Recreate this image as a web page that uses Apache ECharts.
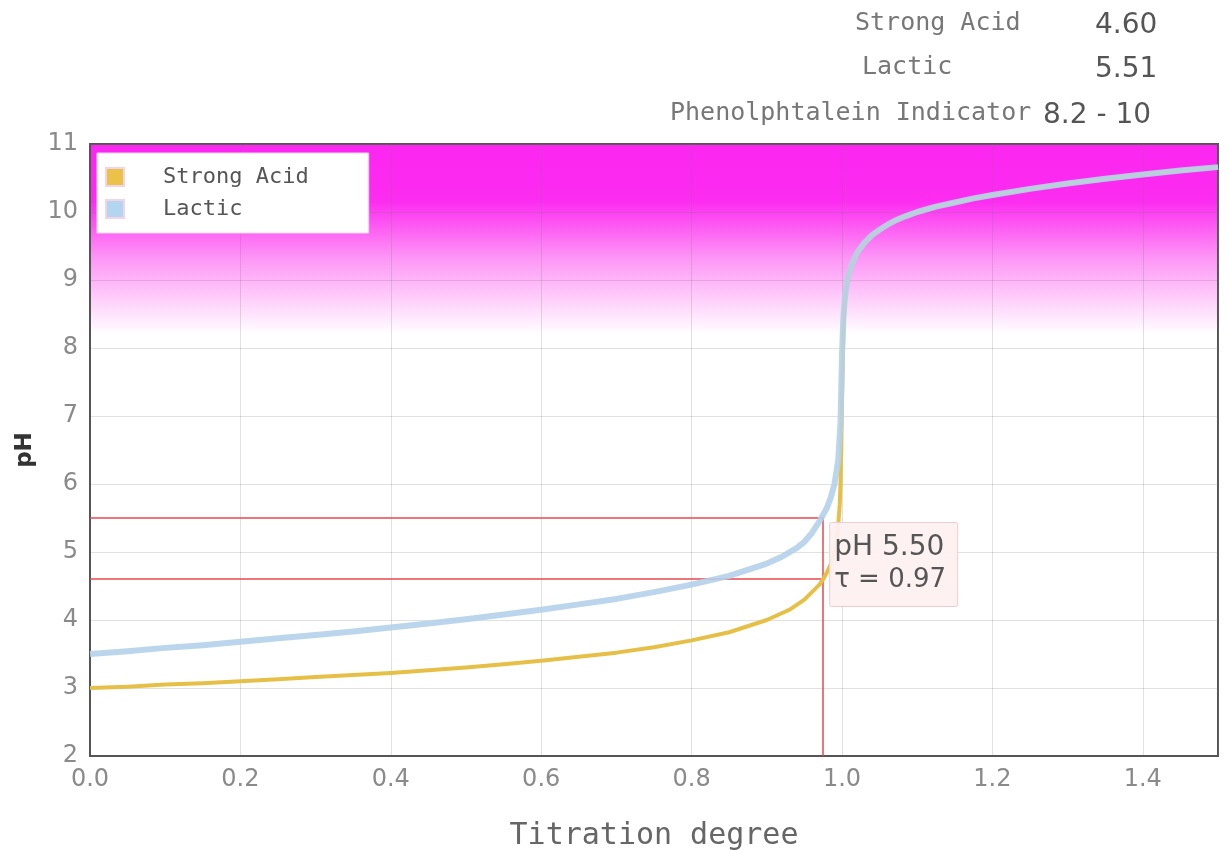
<!DOCTYPE html>
<html>
<head>
<meta charset="utf-8">
<title>Titration curve</title>
<script src="https://cdn.jsdelivr.net/npm/echarts@6/dist/echarts.min.js"></script>
<style>
body { margin: 0; background: #ffffff; }
#main { width: 1229px; height: 850px; }
</style>
</head>
<body>
<div id="main"></div>
<script type="text/javascript">
// titration degree (tau) and pH
var strongTau = [0, 0.05, 0.1, 0.15, 0.2, 0.25, 0.3, 0.35, 0.4, 0.45, 0.5, 0.55, 0.6, 0.65, 0.7, 0.75, 0.8, 0.85, 0.9, 0.93,
	0.95, 0.97, 0.975, 0.98, 0.985, 0.99, 0.993, 0.995, 0.997, 0.998, 0.999,
	1.0, 1.001, 1.002, 1.004, 1.007, 1.012, 1.02, 1.03, 1.04, 1.05, 1.06, 1.07, 1.085, 1.1, 1.125, 1.15, 1.175, 1.2,
	1.25, 1.3, 1.35, 1.4, 1.45, 1.5];
var strongPH = [3.00, 3.02, 3.05, 3.07, 3.10, 3.13, 3.16, 3.19, 3.22, 3.26, 3.30, 3.35, 3.40, 3.46, 3.52, 3.60, 3.70, 3.82, 4.00, 4.15,
	4.30, 4.52, 4.60, 4.70, 4.82, 5.00, 5.15, 5.40, 5.70, 6.00, 6.50,
	7.20, 7.80, 8.30, 8.70, 9.00, 9.20, 9.40, 9.55, 9.66, 9.74, 9.81, 9.87, 9.94, 10.00, 10.08, 10.14, 10.20, 10.25,
	10.34, 10.42, 10.49, 10.55, 10.61, 10.66];

var lacticTau = [0, 0.05, 0.1, 0.15, 0.2, 0.25, 0.3, 0.35, 0.4, 0.45, 0.5, 0.55, 0.6, 0.65, 0.7, 0.75, 0.8, 0.85, 0.9, 0.92,
	0.94, 0.95, 0.96, 0.97, 0.98, 0.985, 0.99, 0.995, 0.998,
	1.0, 1.002, 1.004, 1.007, 1.012, 1.02, 1.03, 1.04, 1.05, 1.06, 1.07, 1.085, 1.1, 1.125, 1.15, 1.175, 1.2,
	1.25, 1.3, 1.35, 1.4, 1.45, 1.5];
var lacticPH = [3.50, 3.54, 3.59, 3.63, 3.68, 3.73, 3.78, 3.83, 3.89, 3.95, 4.01, 4.08, 4.15, 4.23, 4.31, 4.41, 4.52, 4.65, 4.83, 4.93,
	5.06, 5.15, 5.28, 5.45, 5.65, 5.80, 6.00, 6.35, 6.90,
	7.90, 8.50, 8.75, 9.00, 9.20, 9.40, 9.55, 9.66, 9.74, 9.81, 9.87, 9.94, 10.00, 10.08, 10.14, 10.20, 10.25,
	10.34, 10.42, 10.49, 10.55, 10.61, 10.66];

// reading at the marked point
var markTau = 0.975;
var markStrongPH = 4.60;
var markLacticPH = 5.50;

// indicator range
var indicatorRange = [8.2, 11];

// info lines top right
var infoNames = ['Strong Acid', 'Lactic', 'Phenolphtalein Indicator'];
var infoValues = ['4.60', '5.51', '8.2 - 10'];

function pairs(xs, ys) {
	var out = [];
	for (var i = 0; i < xs.length; i++) {
		out.push([xs[i], ys[i]]);
	}
	return out;
}

var myChart = echarts.init(document.getElementById('main'));

var mono = 'DejaVu Sans Mono';
var sans = 'DejaVu Sans';

var option = {
	animation : false,
	backgroundColor : '#ffffff',
	grid : {
		left : 90,
		right : 11,
		top : 144,
		bottom : 94,
		containLabel : false,
		outerBoundsMode : 'none',
		show : true,
		z : 3,
		borderColor : '#555555',
		borderWidth : 2,
		backgroundColor : 'transparent'
	},
	legend : {
		orient : 'vertical',
		left : 97,
		top : 153,
		z : 10,
		padding : [ 13, 60, 13, 8 ],
		itemGap : 10,
		itemWidth : 18,
		itemHeight : 18,
		backgroundColor : '#ffffff',
		borderColor : '#f2d6ee',
		borderWidth : 1,
		icon : 'rect',
		itemStyle : {
			borderColor : '#f3d3e6',
			borderWidth : 2
		},
		textStyle : {
			fontFamily : mono,
			fontSize : 22,
			color : '#555555',
			padding : [ 0, 0, 0, 34 ]
		},
		data : [ 'Strong Acid', 'Lactic' ]
	},
	xAxis : {
		type : 'value',
		min : 0,
		max : 1.5,
		interval : 0.2,
		z : 3,
		name : 'Titration degree',
		nameLocation : 'middle',
		nameGap : 65,
		nameTextStyle : {
			fontFamily : mono,
			fontSize : 30,
			color : '#666666'
		},
		axisLine : {
			show : true,
			lineStyle : { color : '#555555', width : 2 }
		},
		axisTick : { show : false },
		axisLabel : {
			fontFamily : sans,
			fontSize : 24,
			color : '#8a8a8a',
			margin : 12,
			showMaxLabel : false,
			formatter : function(v) {
				return v.toFixed(1);
			}
		},
		splitLine : {
			show : true,
			lineStyle : { color : 'rgba(120,120,120,0.22)', width : 1 }
		}
	},
	yAxis : {
		type : 'value',
		min : 2,
		max : 11,
		interval : 1,
		z : 3,
		name : 'pH',
		nameLocation : 'middle',
		nameGap : 46,
		nameTextStyle : {
			fontFamily : sans,
			fontSize : 23,
			fontWeight : 'bold',
			color : '#333333'
		},
		axisLine : {
			show : true,
			lineStyle : { color : '#555555', width : 2 }
		},
		axisTick : { show : false },
		axisLabel : {
			fontFamily : sans,
			fontSize : 24,
			color : '#8a8a8a',
			margin : 12
		},
		splitLine : {
			show : true,
			lineStyle : { color : 'rgba(120,120,120,0.22)', width : 1 }
		}
	},
	series : [ {
		// indicator band
		name : 'indicator',
		type : 'line',
		data : [],
		silent : true,
		z : 1,
		markArea : {
			silent : true,
			itemStyle : {
				color : new echarts.graphic.LinearGradient(0, 0, 0, 1, [ {
					offset : 0,
					color : '#fc26f0'
				}, {
					offset : 0.3,
					color : '#fc2cf0'
				}, {
					offset : 0.6,
					color : '#fd96f6'
				}, {
					offset : 1,
					color : '#ffffff'
				} ])
			},
			data : [ [ {
				yAxis : indicatorRange[1]
			}, {
				yAxis : indicatorRange[0]
			} ] ]
		}
	}, {
		name : 'Strong Acid',
		type : 'line',
		data : pairs(strongTau, strongPH),
		showSymbol : false,
		smooth : false,
		z : 5,
		itemStyle : { color : '#e9c247' },
		lineStyle : { color : '#e6c046', width : 4, join : 'round' }
	}, {
		name : 'Lactic',
		type : 'line',
		data : pairs(lacticTau, lacticPH),
		showSymbol : false,
		smooth : false,
		z : 6,
		itemStyle : { color : '#b3d6f0' },
		lineStyle : { color : '#b4d2ea', width : 6, opacity : 0.9, join : 'round' }
	}, {
		// red reading lines
		name : 'reading',
		type : 'line',
		data : [],
		silent : true,
		z : 7,
		markLine : {
			silent : true,
			symbol : [ 'none', 'none' ],
			label : { show : false },
			lineStyle : { color : '#e8474c', width : 1.5, type : 'solid' },
			data : [ [ {
				coord : [ 0, markLacticPH ]
			}, {
				coord : [ markTau, markLacticPH ]
			} ], [ {
				coord : [ 0, markStrongPH ]
			}, {
				coord : [ markTau, markStrongPH ]
			} ], [ {
				coord : [ markTau, 2 ]
			}, {
				coord : [ markTau, markLacticPH ]
			} ] ]
		}
	} ]
};

myChart.setOption(option);

// reading box next to the red lines, and info text top right
var p = myChart.convertToPixel({ gridIndex : 0 }, [ markTau, markLacticPH ]);
var graphics = [ {
	type : 'rect',
	left : p[0] + 6,
	top : p[1] + 4,
	shape : { width : 128, height : 84, r : 2 },
	style : { fill : 'rgba(253,240,240,0.95)', stroke : '#f1cccc', lineWidth : 1 },
	z : 100
}, {
	type : 'text',
	left : p[0] + 11,
	top : p[1] + 16,
	style : { text : 'pH ' + markLacticPH.toFixed(2), font : '28px "DejaVu Sans"', fill : '#555555' },
	z : 101
}, {
	type : 'text',
	left : p[0] + 11,
	top : p[1] + 49,
	style : { text : '\u03c4 = ' + (Math.floor(markTau * 100) / 100).toFixed(2), font : '26px "DejaVu Sans"', fill : '#555555' },
	z : 101
} ];

var infoX = [ 855, 862, 670 ];
var infoY = [ 11, 55, 101 ];
var valX = [ 1095, 1095, 1043 ];
for (var i = 0; i < infoNames.length; i++) {
	graphics.push({
		type : 'text',
		left : infoX[i],
		top : infoY[i],
		style : { text : infoNames[i], font : '25px "DejaVu Sans Mono"', fill : '#777777' }
	});
	graphics.push({
		type : 'text',
		left : valX[i],
		top : infoY[i] + 1,
		style : { text : infoValues[i], font : '28px "DejaVu Sans"', fill : '#555555' }
	});
}
myChart.setOption({ graphic : graphics });
</script>
</body>
</html>
